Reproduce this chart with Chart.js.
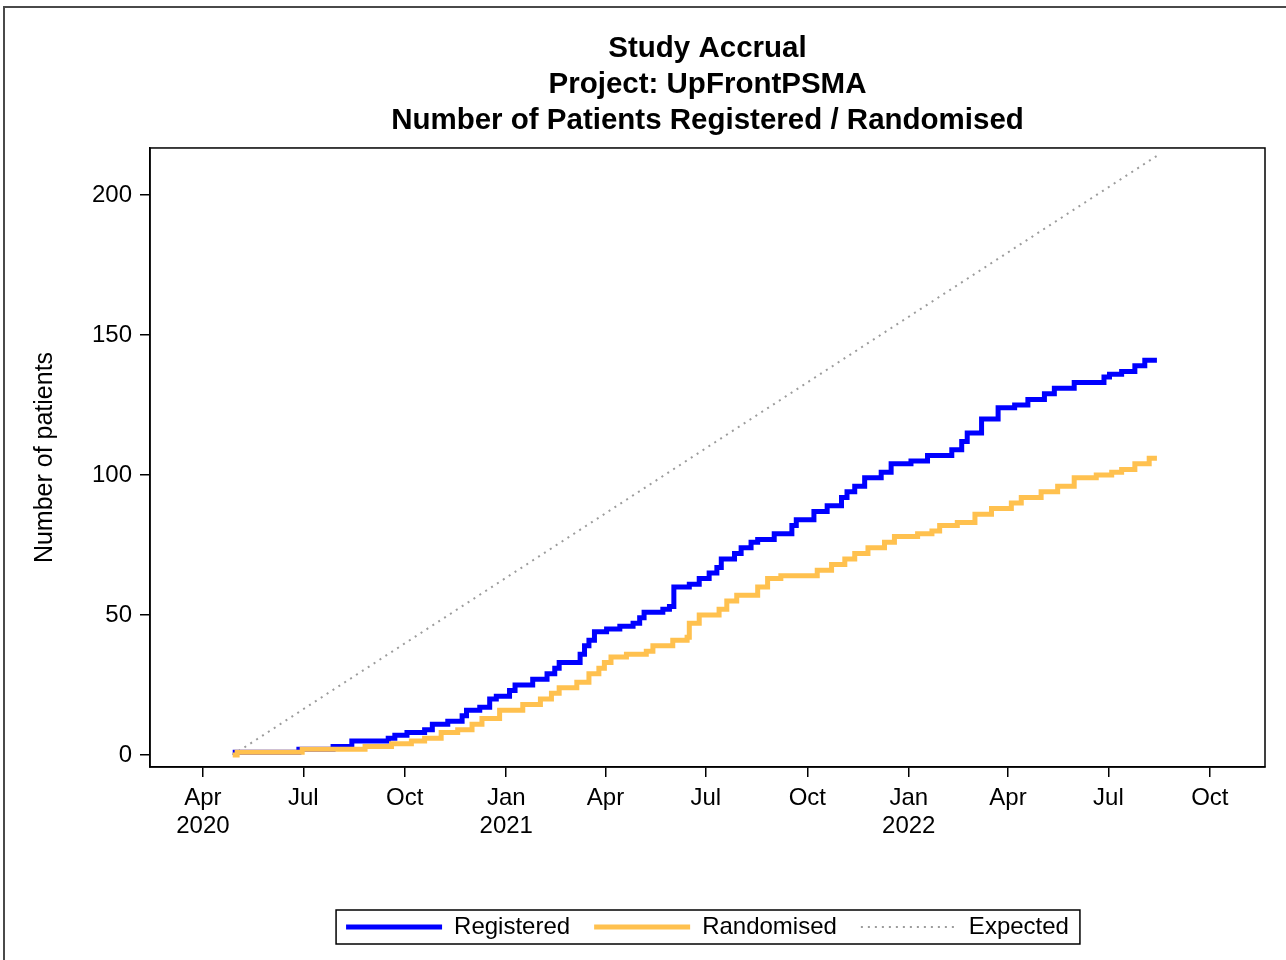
<!DOCTYPE html>
<html>
<head>
<meta charset="utf-8">
<script src="https://cdn.jsdelivr.net/npm/chart.js@4.4.0/dist/chart.umd.min.js"></script>
<style>
html, body { margin: 0; padding: 0; background: #fff; overflow: hidden; }
#frame { position: absolute; left: 3px; top: 6px; width: 1300px; height: 1000px; border: 2px solid #4a4a4a; }
#wrap { position: absolute; left: 0; top: 0; width: 1286px; height: 960px; }
</style>
</head>
<body>
<div id="frame"></div>
<div id="wrap"><canvas id="accrual"></canvas></div>
<script>
// cumulative counts, each entry = date the count was reached
const regDates = ['2020-04-28','2020-06-27','2020-07-28','2020-08-14','2020-09-16','2020-09-22','2020-10-03','2020-10-19','2020-10-26','2020-11-09',
  '2020-11-22','2020-11-26','2020-12-08','2020-12-17','2020-12-23','2021-01-04','2021-01-09','2021-01-25','2021-02-07','2021-02-14',
  '2021-02-18','2021-03-09','2021-03-13','2021-03-17','2021-03-22','2021-04-02','2021-04-14','2021-04-26','2021-05-02','2021-05-06',
  '2021-05-23','2021-05-29','2021-06-02','2021-06-16','2021-06-25','2021-07-04','2021-07-11','2021-07-15','2021-07-27','2021-08-02',
  '2021-08-11','2021-08-17','2021-09-01','2021-09-17','2021-09-21','2021-10-07','2021-10-19','2021-11-01','2021-11-06','2021-11-13',
  '2021-11-22','2021-12-07','2021-12-16','2022-01-03','2022-01-18','2022-02-09','2022-02-18','2022-02-23','2022-03-08','2022-03-23',
  '2022-04-07','2022-04-19','2022-05-04','2022-05-13','2022-05-31','2022-06-27','2022-07-02','2022-07-13','2022-07-25','2022-08-03',
  '2022-08-14'];
const regCounts = [1,2,3,5,6,7,8,9,11,12,
  14,16,17,20,21,23,25,27,29,31,
  33,36,39,41,44,45,46,47,49,51,
  52,53,60,61,63,65,67,70,72,74,
  76,77,79,82,84,87,89,92,94,96,
  99,101,104,105,107,109,112,115,120,124,
  125,127,129,131,133,135,136,137,139,141,
  141];

const randDates = ['2020-04-28','2020-05-02','2020-06-30','2020-08-26','2020-09-19','2020-10-07','2020-10-19','2020-11-03','2020-11-18','2020-12-01',
  '2020-12-10','2020-12-26','2021-01-16','2021-02-01','2021-02-11','2021-02-18','2021-03-06','2021-03-17','2021-03-26','2021-03-31',
  '2021-04-06','2021-04-20','2021-05-08','2021-05-14','2021-06-01','2021-06-14','2021-06-16','2021-06-25','2021-07-13','2021-07-20',
  '2021-07-29','2021-08-17','2021-08-26','2021-09-07','2021-10-10','2021-10-23','2021-11-04','2021-11-13','2021-11-25','2021-12-10',
  '2021-12-19','2022-01-09','2022-01-22','2022-01-29','2022-02-14','2022-03-02','2022-03-17','2022-04-04','2022-04-13','2022-05-01',
  '2022-05-16','2022-05-31','2022-06-20','2022-07-04','2022-07-13','2022-07-25','2022-08-07','2022-08-14'];
const randCounts = [0,1,2,3,4,5,6,8,9,11,
  13,16,18,20,22,24,26,29,31,33,
  35,36,37,39,41,42,47,50,52,55,
  57,60,63,64,66,68,70,72,74,76,
  78,79,80,82,83,86,88,90,92,94,
  96,99,100,101,102,104,106,106];

const expDates = ['2020-04-28','2022-08-14'];
const expCounts = [0, 214];

const tickDates = ['2020-04-01','2020-07-01','2020-10-01','2021-01-01','2021-04-01','2021-07-01','2021-10-01',
  '2022-01-01','2022-04-01','2022-07-01','2022-10-01'];
const tickLabels = [['Apr','2020'],'Jul','Oct',['Jan','2021'],'Apr','Jul','Oct',['Jan','2022'],'Apr','Jul','Oct'];
const yTicks = [0, 50, 100, 150, 200];

const BASE = Date.UTC(2020, 0, 1);
function toDay(s) {
    const p = s.split('-');
    return (Date.UTC(+p[0], +p[1] - 1, +p[2]) - BASE) / 86400000;
}
function toPoints(dates, counts) {
    return dates.map((d, i) => ({x: toDay(d), y: counts[i]}));
}

const FONT = 'Liberation Sans, Arial, sans-serif';

// box round the plot area and round the legend
const boxes = {
    id: 'boxes',
    afterDatasetsDraw(chart) {
        const a = chart.chartArea;
        const ctx = chart.ctx;
        ctx.save();
        ctx.strokeStyle = '#000';
        ctx.lineWidth = 1.5;
        ctx.strokeRect(a.left, a.top, a.right - a.left, a.bottom - a.top);
        ctx.restore();
    },
    afterDraw(chart) {
        const hb = chart.legend.legendHitBoxes;
        if (!hb || !hb.length) return;
        let l = Infinity, r = -Infinity, t = Infinity, b = -Infinity;
        hb.forEach(h => {
            l = Math.min(l, h.left); r = Math.max(r, h.left + h.width);
            t = Math.min(t, h.top); b = Math.max(b, h.top + h.height);
        });
        const ctx = chart.ctx;
        ctx.save();
        ctx.strokeStyle = '#000';
        ctx.lineWidth = 1.5;
        ctx.strokeRect(l - 10, t - 5, r - l + 21, b - t + 10);
        ctx.restore();
    }
};

new Chart(document.getElementById('accrual'), {
    type: 'line',
    data: {
        datasets: [{
            label: 'Registered',
            data: toPoints(regDates, regCounts),
            borderColor: '#0000FF',
            backgroundColor: '#0000FF',
            borderWidth: 5,
            stepped: 'before',
            pointRadius: 0,
            order: 2
        }, {
            label: 'Randomised',
            data: toPoints(randDates, randCounts),
            borderColor: '#FFC14F',
            backgroundColor: '#FFC14F',
            borderWidth: 5,
            stepped: 'before',
            pointRadius: 0,
            order: 1
        }, {
            label: 'Expected',
            data: toPoints(expDates, expCounts),
            borderColor: '#9c9c9c',
            backgroundColor: '#9c9c9c',
            borderWidth: 2,
            borderDash: [2, 5],
            pointRadius: 0,
            order: 3
        }]
    },
    options: {
        responsive: true,
        maintainAspectRatio: false,
        animation: false,
        layout: { padding: { left: 20, right: 21, top: 0, bottom: 11 } },
        plugins: {
            title: {
                display: true,
                fullSize: false,
                text: ['Study Accrual', 'Project: UpFrontPSMA', 'Number of Patients Registered / Randomised'],
                color: '#000',
                font: { family: FONT, size: 29.5, weight: 'bold', lineHeight: 1.22 },
                padding: { top: 31, bottom: 9 }
            },
            legend: {
                position: 'bottom',
                fullSize: false,
                labels: {
                    usePointStyle: true,
                    pointStyle: 'line',
                    pointStyleWidth: 96,
                    color: '#000',
                    font: { family: FONT, size: 24 },
                    padding: 24,
                    sort: (a, b) => a.datasetIndex - b.datasetIndex,
                    generateLabels(chart) {
                        const items = Chart.defaults.plugins.legend.labels.generateLabels(chart);
                        items.forEach(it => {
                            const ds = chart.data.datasets[it.datasetIndex];
                            it.lineDash = ds.borderDash || [];
                            it.lineWidth = ds.borderWidth;
                        });
                        return items;
                    }
                }
            },
            tooltip: { enabled: false }
        },
        scales: {
            x: {
                type: 'linear',
                min: 43,
                max: 1054,
                afterBuildTicks: s => { s.ticks = tickDates.map(d => ({value: toDay(d)})); },
                afterFit: s => { s.height = 124; },
                ticks: {
                    callback: (v, i) => tickLabels[i],
                    color: '#000',
                    font: { family: FONT, size: 24, lineHeight: 1.17 },
                    padding: 7,
                    maxRotation: 0,
                    autoSkip: false
                },
                grid: { drawOnChartArea: false, tickLength: 10, color: '#000', lineWidth: 1.5 },
                border: { display: true, color: '#000', width: 1.5 }
            },
            y: {
                type: 'linear',
                min: -4.3,
                max: 216.8,
                afterBuildTicks: s => { s.ticks = yTicks.map(v => ({value: v})); },
                afterFit: s => { s.width = 130; },
                ticks: {
                    color: '#000',
                    font: { family: FONT, size: 24 },
                    padding: 8
                },
                grid: { drawOnChartArea: false, tickLength: 10, color: '#000', lineWidth: 1.5 },
                border: { display: true, color: '#000', width: 1.5 },
                title: {
                    display: true,
                    text: 'Number of patients',
                    color: '#000',
                    font: { family: FONT, size: 25 },
                    padding: { top: 10 }
                }
            }
        }
    },
    plugins: [boxes]
});
</script>
</body>
</html>
